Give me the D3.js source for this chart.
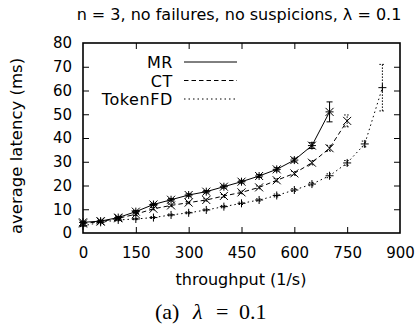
<!DOCTYPE html>
<html>
<head>
<meta charset="utf-8">
<script src="https://cdn.jsdelivr.net/npm/d3@7"></script>
<style>
  html, body { margin: 0; padding: 0; background: #fff; }
  svg { display: block; }
  text { font-family: "DejaVu Sans", sans-serif; fill: #000; }
</style>
</head>
<body>
<svg id="chart" width="419" height="336"></svg>
<script>
// Throughput (1/s) at which each point was measured
const throughputMR  = [0, 50, 100, 150, 200, 250, 300, 350, 400, 450, 500, 550, 600, 650, 700];
const throughputCT  = [0, 50, 100, 150, 200, 250, 300, 350, 400, 450, 500, 550, 600, 650, 700, 750];
const throughputTok = [0, 50, 100, 150, 200, 250, 300, 350, 400, 450, 500, 550, 600, 650, 700, 750, 800, 850];

// Average latency (ms) and half-width of its error bar
const latencyMR  = [4.5, 5.0, 6.5, 9.0, 12.0, 14.0, 16.0, 17.4, 19.5, 21.6, 24.0, 26.8, 30.7, 36.8, 51.0];
const errorMR    = [0.4, 0.4, 0.4, 0.5, 0.5, 0.5, 0.5, 0.5, 0.6, 0.6, 0.6, 0.7, 0.8, 1.2, 4.2];
const latencyCT  = [4.0, 4.8, 6.2, 7.9, 10.2, 11.6, 12.8, 13.9, 15.6, 17.1, 19.2, 22.2, 25.1, 29.6, 35.7, 47.2];
const errorCT    = [0.4, 0.4, 0.4, 0.5, 0.5, 0.5, 0.5, 0.5, 0.6, 0.6, 0.6, 0.7, 0.8, 0.9, 1.2, 2.5];
const latencyTok = [3.0, 4.5, 5.5, 5.9, 6.5, 7.6, 8.5, 9.7, 11.1, 12.5, 13.9, 15.8, 18.1, 20.6, 24.1, 29.5, 37.5, 61.2];
const errorTok   = [0.3, 0.3, 0.3, 0.3, 0.4, 0.4, 0.4, 0.4, 0.5, 0.5, 0.5, 0.6, 0.6, 0.7, 0.8, 1.0, 1.2, 9.8];

const xTicks = [0, 150, 300, 450, 600, 750, 900];
const yTicks = [0, 10, 20, 30, 40, 50, 60, 70, 80];

const seriesNames = ["MR", "CT", "TokenFD"];

const series = [
  { name: seriesNames[0], xs: throughputMR,  ys: latencyMR,  es: errorMR,  dash: null,  marker: "star" },
  { name: seriesNames[1], xs: throughputCT,  ys: latencyCT,  es: errorCT,  dash: "4.5,3", marker: "cross" },
  { name: seriesNames[2], xs: throughputTok, ys: latencyTok, es: errorTok, dash: "1.5,3", marker: "plus" }
];

const svg = d3.select("#chart");
const plot = { left: 83, right: 400, top: 43, bottom: 233 };

const x = d3.scaleLinear().domain([0, 900]).range([plot.left, plot.right]);
const y = d3.scaleLinear().domain([0, 80]).range([plot.bottom, plot.top]);

// Title
svg.append("text")
  .attr("x", 239).attr("y", 20)
  .attr("text-anchor", "middle")
  .attr("font-size", 16)
  .text("n = 3, no failures, no suspicions, λ = 0.1");

// Axes: ticks point inward and are mirrored on the opposite sides
const tickLen = 6;
const axisBottom = d3.axisBottom(x).tickValues(xTicks).tickSize(-tickLen).tickPadding(14).tickSizeOuter(0);
const axisTop = d3.axisTop(x).tickValues(xTicks).tickSize(-tickLen).tickFormat("").tickSizeOuter(0);
const axisLeft = d3.axisLeft(y).tickValues(yTicks).tickSize(-tickLen).tickPadding(11).tickSizeOuter(0);
const axisRight = d3.axisRight(y).tickValues(yTicks).tickSize(-tickLen).tickFormat("").tickSizeOuter(0);

function styleAxis(g) {
  g.select(".domain").remove();
  g.selectAll(".tick line").attr("stroke", "#000").attr("stroke-width", 1);
  g.selectAll(".tick text").attr("font-size", 15).attr("font-family", "DejaVu Sans").attr("fill", "#000");
}

svg.append("g").attr("transform", `translate(0,${plot.bottom})`).call(axisBottom).call(styleAxis);
svg.append("g").attr("transform", `translate(0,${plot.top})`).call(axisTop).call(styleAxis);
svg.append("g").attr("transform", `translate(${plot.left},0)`).call(axisLeft).call(styleAxis);
svg.append("g").attr("transform", `translate(${plot.right},0)`).call(axisRight).call(styleAxis);

// Hide the edge ticks that sit on the frame corners
svg.selectAll(".tick").filter(d => d === 0 || d === 900 || d === 80)
  .select("line").attr("stroke-opacity", 0);

// Frame
svg.append("rect")
  .attr("x", plot.left).attr("y", plot.top)
  .attr("width", plot.right - plot.left).attr("height", plot.bottom - plot.top)
  .attr("fill", "none").attr("stroke", "#000").attr("stroke-width", 1.6);

// Axis titles
svg.append("text")
  .attr("transform", `translate(22,146) rotate(-90)`)
  .attr("text-anchor", "middle")
  .attr("font-size", 16.5)
  .text("average latency (ms)");

svg.append("text")
  .attr("x", 241).attr("y", 285)
  .attr("text-anchor", "middle")
  .attr("font-size", 16)
  .text("throughput (1/s)");

// Caption, laid out with math-style spacing around the equals sign
const capFont = "'Liberation Serif', 'DejaVu Serif', serif";
const capY = 319;
[
  { t: "(a)", x: 155, italic: false },
  { t: "λ", x: 193, italic: true },
  { t: "=", x: 216, italic: false },
  { t: "0.1", x: 239, italic: false }
].forEach(p => {
  svg.append("text")
    .attr("x", p.x).attr("y", capY)
    .attr("font-size", 22)
    .attr("font-style", p.italic ? "italic" : null)
    .style("font-family", capFont)
    .text(p.t);
});

// Series lines, error bars and point markers
const line = d3.line().x(d => x(d[0])).y(d => y(d[1]));
const ms = 4;
const capW = 3;

function markerPath(type) {
  const p = d3.path();
  if (type === "plus" || type === "star") {
    p.moveTo(-ms, 0); p.lineTo(ms, 0);
    p.moveTo(0, -ms); p.lineTo(0, ms);
  }
  if (type === "cross" || type === "star") {
    p.moveTo(-ms, -ms); p.lineTo(ms, ms);
    p.moveTo(-ms, ms); p.lineTo(ms, -ms);
  }
  return p.toString();
}

series.forEach(s => {
  const pts = s.xs.map((v, i) => [v, s.ys[i], s.es[i]]);
  const g = svg.append("g");

  g.append("path")
    .attr("d", line(pts))
    .attr("fill", "none").attr("stroke", "#000").attr("stroke-width", 1)
    .attr("stroke-dasharray", s.dash);

  const eb = g.selectAll(".eb").data(pts).enter().append("g")
    .attr("fill", "none").attr("stroke", "#000").attr("stroke-width", 1)
    .attr("stroke-dasharray", s.dash ? "1.5,1.5" : null);
  eb.append("line")
    .attr("x1", d => x(d[0])).attr("x2", d => x(d[0]))
    .attr("y1", d => y(d[1] - d[2])).attr("y2", d => y(d[1] + d[2]));
  eb.append("line")
    .attr("x1", d => x(d[0]) - capW).attr("x2", d => x(d[0]) + capW)
    .attr("y1", d => y(d[1] - d[2])).attr("y2", d => y(d[1] - d[2]));
  eb.append("line")
    .attr("x1", d => x(d[0]) - capW).attr("x2", d => x(d[0]) + capW)
    .attr("y1", d => y(d[1] + d[2])).attr("y2", d => y(d[1] + d[2]));

  g.selectAll(".pt").data(pts).enter().append("path")
    .attr("transform", d => `translate(${x(d[0])},${y(d[1])})`)
    .attr("d", markerPath(s.marker))
    .attr("fill", "none").attr("stroke", "#000").attr("stroke-width", 1);
});

// Legend
const legend = svg.append("g");
series.forEach((s, i) => {
  const ly = 62 + i * 18.5;
  legend.append("text")
    .attr("x", 173).attr("y", ly + 6)
    .attr("text-anchor", "end")
    .attr("font-size", 16)
    .attr("letter-spacing", 0.6)
    .text(s.name);
  legend.append("line")
    .attr("x1", 184).attr("x2", 237).attr("y1", ly).attr("y2", ly)
    .attr("stroke", "#000").attr("stroke-width", 1)
    .attr("stroke-dasharray", s.dash);
});
</script>
</body>
</html>
